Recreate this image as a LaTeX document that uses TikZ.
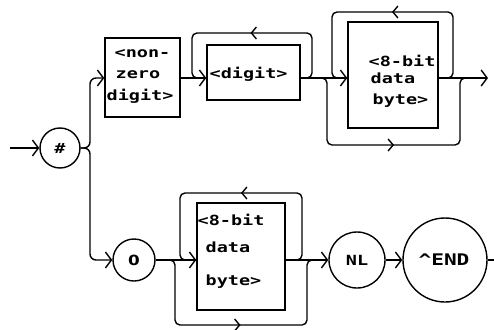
\documentclass[tikz,border=0pt]{standalone}
\usepackage{fontspec}
\usetikzlibrary{arrows.meta,decorations.markings}
\newfontfamily\plotfont[FakeStretch=1.32]{DejaVu Sans Mono}
\newfontfamily\plotsans[FakeStretch=1.2]{DejaVu Sans}
\begin{document}
\begin{tikzpicture}[x=1pt,y=-1pt,
  line width=1.4pt,
  box/.style={draw,line width=1.4pt,inner sep=0pt},
  circ/.style={draw,circle,line width=1.4pt,inner sep=0pt},
  lbl/.style={anchor=base west,inner sep=0pt,font=\plotfont\bfseries\fontsize{14}{15}\selectfont},
  clbl/.style={anchor=center,inner sep=0pt,font=\plotfont\bfseries\fontsize{14}{15}\selectfont},
  tip/.style={-{Straight Barb[length=6pt,width=16pt,line width=1.4pt]}},
  midarrow/.style={rounded corners=5pt,postaction={decorate},decoration={markings,
     mark=at position 0.5 with {\arrow{Straight Barb[length=5pt,width=12pt,line width=1.4pt]}}}},
  conn/.style={rounded corners=6pt}]
\useasboundingbox (0,0) rectangle (494,329);
\coordinate (m1) at (0,78);
\coordinate (m2) at (0,260);
\coordinate (start) at (10,148);
\coordinate (exit1) at (488,78);
\coordinate (exit2) at (494,260);
% nodes
\node[circ,minimum size=40pt] (hash) at (60,148) {};
\node[clbl] (hasht) at (60,148) {\#};
\node[box,minimum width=75pt,minimum height=79pt] (nz) at (142.5,77.5) {};
\node[box,minimum width=93pt,minimum height=55pt] (dg) at (253.5,72.5) {};
\node[box,minimum width=90pt,minimum height=106pt] (b1) at (393,75) {};
\node[circ,minimum size=42pt] (zero) at (134,260) {};
\node[clbl,font=\plotsans\bfseries\fontsize{14}{15}\selectfont] (zerot) at (134,260) {0};
\node[box,minimum width=88pt,minimum height=107pt] (b2) at (241,256.5) {};
\node[circ,minimum size=56pt] (nl) at (357,260) {};
\node[clbl] (nlt) at (357,260) {NL};
\node[circ,minimum size=84pt] (end) at (445,260) {};
\node[clbl,font=\plotfont\bfseries\fontsize{16}{17}\selectfont] (endt) at (444,260) {\textasciicircum END};
% texts
\node[lbl] (nz1) at (114,57) {<non-};
\node[lbl] (nz2) at (115,78) {zero};
\node[lbl] (nz3) at (106,100) {digit>};
\node[lbl] (dg1) at (209,78) {<digit>};
\node[lbl] (b11) at (368,66) {<8-bit};
\node[lbl] (b12) at (370,83) {data};
\node[lbl] (b13) at (372,104) {byte>};
\node[lbl] (b21) at (197,225) {<8-bit};
\node[lbl] (b22) at (205,252) {data};
\node[lbl] (b23) at (205,285) {byte>};
% main connectors
\draw[tip] (start) -- (hash.west);
\draw[tip,conn] (hash.east) -| (90,110) |- (nz.west |- m1);
\draw[tip,conn] (hash.east) -| (90,200) |- (zero.west);
\draw[tip] (nz.east |- m1) -- (dg.west |- m1);
\draw[tip] (dg.east |- m1) -- (b1.west |- m1);
\draw[tip] (b1.east |- m1) -- (exit1);
\draw[tip] (zero.east) -- (b2.west |- m2);
\draw[tip] (b2.east |- m2) -- (nl.west);
\draw[tip] (nl.east) -- (end.west);
\draw (end.east) -- (exit2);
% loops and bypasses
\coordinate (bp1a) at (318,78);
\coordinate (bp1b) at (470,78);
\coordinate (bp2a) at (166,260);
\coordinate (bp2b) at (315,260);
\draw[midarrow] (dg.east |- m1) -- (312,78) -- (312,33) -- (192,33) -- (192,78) -- (dg.west |- m1);
\draw[midarrow] (b1.east |- m1) -- (453,78) -- (453,12) -- (332,12) -- (332,78) -- (b1.west |- m1);
\draw[midarrow] (bp1a) -- (327,78) -- (327,145) -- (460,145) -- (460,78) -- (bp1b);
\draw[midarrow] (b2.east |- m2) -- (302,260) -- (302,193) -- (180,193) -- (180,260) -- (b2.west |- m2);
\draw[midarrow] (bp2a) -- (175,260) -- (175,325) -- (307,325) -- (307,260) -- (bp2b);
\end{tikzpicture}
\end{document}
